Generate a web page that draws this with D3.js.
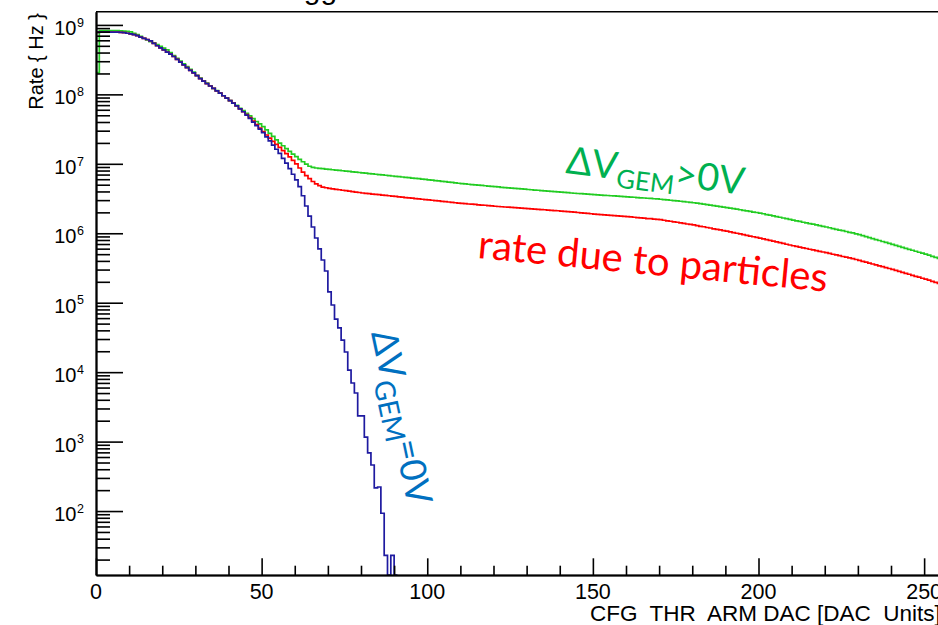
<!DOCTYPE html>
<html>
<head>
<meta charset="utf-8">
<script src="https://cdn.jsdelivr.net/npm/d3@7"></script>
<style>
  html, body { margin: 0; padding: 0; background: #fff; }
  svg { display: block; }
  .tick-label { font-family: "Liberation Sans", Arial, sans-serif; fill: #000; }
  .note { font-family: Lato, "Open Sans", sans-serif; }
</style>
</head>
<body>
<div id="chart"></div>
<script>
/* ===================================
   Rate vs threshold, ROOT style log histogram
   =================================== */

// one value per DAC unit bin (0..255), rate in Hz
const greenRate = [
  2.06e8, 8.3e8, 8.3e8, 8.3e8, 8.3e8, 8.3e8, 8.25e8, 8.2e8, 8.15e8,
  8.05e8, 7.94e8, 7.59e8, 7.24e8, 6.84e8, 6.43e8, 6.10e8, 5.75e8, 5.50e8, 5.19e8, 4.90e8, 4.62e8,
  4.37e8, 3.98e8, 3.63e8, 3.31e8, 3.02e8, 2.75e8, 2.51e8, 2.29e8, 2.09e8, 1.88e8,
  1.71e8, 1.57e8, 1.45e8, 1.33e8, 1.22e8, 1.13e8, 1.04e8, 9.55e7, 8.81e7, 8.13e7,
  7.50e7, 6.92e7, 6.31e7, 5.82e7, 5.35e7, 4.90e7, 4.47e7, 4.07e7, 3.76e7, 3.43e7,
  3.09e7, 2.75e7, 2.48e7, 2.21e7, 1.98e7, 1.82e7, 1.66e7, 1.51e7, 1.38e7, 1.27e7,
  1.16e7, 1.07e7, 9.89e6, 9.23e6, 8.91e6, 8.71e6, 8.61e6, 8.51e6, 8.41e6, 8.32e6,
  8.22e6, 8.13e6, 8.04e6, 7.94e6, 7.85e6, 7.76e6, 7.67e6, 7.59e6, 7.50e6, 7.41e6,
  7.33e6, 7.24e6, 7.16e6, 7.08e6, 7.00e6, 6.92e6, 6.84e6, 6.76e6, 6.68e6, 6.61e6,
  6.53e6, 6.46e6, 6.38e6, 6.31e6, 6.24e6, 6.17e6, 6.10e6, 6.03e6, 5.96e6, 5.89e6,
  5.82e6, 5.74e6, 5.67e6, 5.60e6, 5.53e6, 5.46e6, 5.39e6, 5.32e6, 5.25e6, 5.19e6,
  5.14e6, 5.08e6, 5.03e6, 4.98e6, 4.93e6, 4.88e6, 4.83e6, 4.78e6, 4.73e6, 4.68e6,
  4.64e6, 4.59e6, 4.55e6, 4.51e6, 4.47e6, 4.43e6, 4.39e6, 4.35e6, 4.31e6, 4.27e6,
  4.23e6, 4.19e6, 4.16e6, 4.12e6, 4.08e6, 4.05e6, 4.01e6, 3.98e6, 3.94e6, 3.91e6,
  3.87e6, 3.84e6, 3.80e6, 3.77e6, 3.74e6, 3.71e6, 3.69e6, 3.66e6, 3.63e6, 3.60e6,
  3.57e6, 3.55e6, 3.52e6, 3.50e6, 3.47e6, 3.45e6, 3.42e6, 3.40e6, 3.37e6, 3.35e6,
  3.32e6, 3.30e6, 3.27e6, 3.24e6, 3.22e6, 3.19e6, 3.17e6, 3.14e6, 3.12e6, 3.09e6,
  3.06e6, 3.02e6, 2.99e6, 2.95e6, 2.92e6, 2.89e6, 2.85e6, 2.82e6, 2.79e6, 2.75e6,
  2.71e6, 2.67e6, 2.62e6, 2.58e6, 2.54e6, 2.50e6, 2.46e6, 2.42e6, 2.38e6, 2.34e6,
  2.30e6, 2.26e6, 2.22e6, 2.18e6, 2.14e6, 2.10e6, 2.06e6, 2.02e6, 1.99e6, 1.95e6,
  1.91e6, 1.86e6, 1.82e6, 1.78e6, 1.74e6, 1.70e6, 1.66e6, 1.62e6, 1.58e6, 1.55e6,
  1.51e6, 1.48e6, 1.44e6, 1.41e6, 1.38e6, 1.35e6, 1.32e6, 1.29e6, 1.26e6, 1.23e6,
  1.20e6, 1.17e6, 1.14e6, 1.11e6, 1.09e6, 1.06e6, 1.03e6, 1.01e6, 9.80e5, 9.55e5,
  9.25e5, 8.95e5, 8.66e5, 8.39e5, 8.12e5, 7.86e5, 7.61e5, 7.37e5, 7.13e5, 6.92e5,
  6.70e5, 6.48e5, 6.27e5, 6.07e5, 5.88e5, 5.69e5, 5.51e5, 5.33e5, 5.16e5, 5.01e5,
  4.83e5, 4.66e5, 4.49e5, 4.33e5, 4.17e5
];

const redRate = [
  7.8e8, 7.9e8, 7.9e8, 7.9e8, 7.9e8, 7.9e8, 7.85e8, 7.8e8, 7.75e8,
  7.59e8, 7.41e8, 7.24e8, 7.00e8, 6.68e8, 6.38e8, 6.17e8, 5.89e8, 5.43e8, 5.01e8, 4.68e8, 4.37e8,
  4.07e8, 3.80e8, 3.51e8, 3.20e8, 2.92e8, 2.66e8, 2.43e8, 2.21e8, 2.04e8, 1.86e8,
  1.68e8, 1.55e8, 1.43e8, 1.32e8, 1.22e8, 1.12e8, 1.04e8, 9.55e7, 8.81e7, 8.13e7,
  7.50e7, 6.84e7, 6.17e7, 5.62e7, 5.13e7, 4.62e7, 4.12e7, 3.67e7, 3.27e7, 2.92e7,
  2.60e7, 2.34e7, 2.11e7, 1.91e7, 1.72e7, 1.55e7, 1.40e7, 1.26e7, 1.12e7, 1.00e7,
  8.71e6, 7.59e6, 6.76e6, 6.10e6, 5.56e6, 5.13e6, 4.84e6, 4.62e6, 4.52e6, 4.42e6,
  4.35e6, 4.29e6, 4.23e6, 4.16e6, 4.10e6, 4.04e6, 3.98e6, 3.92e6, 3.86e6, 3.80e6,
  3.76e6, 3.72e6, 3.67e6, 3.63e6, 3.59e6, 3.55e6, 3.51e6, 3.47e6, 3.43e6, 3.39e6,
  3.35e6, 3.31e6, 3.27e6, 3.24e6, 3.20e6, 3.16e6, 3.13e6, 3.09e6, 3.06e6, 3.02e6,
  2.99e6, 2.95e6, 2.92e6, 2.88e6, 2.85e6, 2.82e6, 2.79e6, 2.75e6, 2.72e6, 2.69e6,
  2.67e6, 2.64e6, 2.62e6, 2.60e6, 2.57e6, 2.55e6, 2.53e6, 2.50e6, 2.48e6, 2.45e6,
  2.43e6, 2.41e6, 2.39e6, 2.38e6, 2.36e6, 2.34e6, 2.32e6, 2.30e6, 2.28e6, 2.26e6,
  2.25e6, 2.23e6, 2.21e6, 2.19e6, 2.18e6, 2.16e6, 2.14e6, 2.12e6, 2.11e6, 2.09e6,
  2.07e6, 2.05e6, 2.03e6, 2.01e6, 1.99e6, 1.97e6, 1.95e6, 1.93e6, 1.91e6, 1.88e6,
  1.87e6, 1.85e6, 1.84e6, 1.82e6, 1.81e6, 1.79e6, 1.78e6, 1.76e6, 1.75e6, 1.74e6,
  1.72e6, 1.70e6, 1.68e6, 1.67e6, 1.65e6, 1.63e6, 1.62e6, 1.60e6, 1.58e6, 1.57e6,
  1.54e6, 1.51e6, 1.49e6, 1.46e6, 1.44e6, 1.41e6, 1.39e6, 1.36e6, 1.34e6, 1.32e6,
  1.29e6, 1.26e6, 1.24e6, 1.21e6, 1.19e6, 1.16e6, 1.14e6, 1.12e6, 1.09e6, 1.07e6,
  1.05e6, 1.02e6, 1.00e6, 9.77e5, 9.55e5, 9.33e5, 9.12e5, 8.91e5, 8.71e5, 8.51e5,
  8.30e5, 8.09e5, 7.89e5, 7.69e5, 7.50e5, 7.31e5, 7.13e5, 6.95e5, 6.78e5, 6.61e5,
  6.46e5, 6.31e5, 6.17e5, 6.03e5, 5.89e5, 5.75e5, 5.62e5, 5.50e5, 5.37e5, 5.25e5,
  5.12e5, 4.99e5, 4.87e5, 4.75e5, 4.63e5, 4.52e5, 4.41e5, 4.30e5, 4.19e5, 4.07e5,
  3.95e5, 3.84e5, 3.72e5, 3.61e5, 3.51e5, 3.40e5, 3.30e5, 3.21e5, 3.11e5, 3.02e5,
  2.92e5, 2.83e5, 2.74e5, 2.65e5, 2.57e5, 2.48e5, 2.40e5, 2.33e5, 2.25e5, 2.19e5,
  2.11e5, 2.03e5, 1.96e5, 1.89e5, 1.82e5
];

// bins 0..90, zero = empty bin
const blueRate = [
  7.8e8, 7.9e8, 7.9e8, 7.9e8, 7.9e8, 7.9e8, 7.85e8, 7.8e8, 7.75e8,
  7.59e8, 7.41e8, 7.24e8, 7.00e8, 6.68e8, 6.38e8, 6.17e8, 5.89e8, 5.43e8, 5.01e8, 4.68e8, 4.37e8,
  4.07e8, 3.80e8, 3.51e8, 3.20e8, 2.92e8, 2.66e8, 2.43e8, 2.21e8, 2.04e8, 1.86e8,
  1.68e8, 1.55e8, 1.43e8, 1.32e8, 1.22e8, 1.12e8, 1.04e8, 9.55e7, 8.81e7, 8.13e7,
  7.50e7, 6.84e7, 6.17e7, 5.62e7, 5.01e7, 4.52e7, 3.98e7, 3.55e7, 3.16e7, 2.82e7,
  2.45e7, 2.14e7, 1.86e7, 1.62e7, 1.41e7, 1.20e7, 1.02e7, 8.51e6, 7.08e6, 5.89e6,
  4.68e6, 3.47e6, 2.47e6, 1.77e6, 1.23e6, 8.55e5, 5.94e5, 4.12e5, 2.86e5, 1.43e5,
  9.27e4, 5.82e4, 4.33e4, 2.90e4, 1.95e4, 1.07e4, 6.98e3, 5.01e3, 2.34e3, 2.34e3,
  1160, 686, 460, 215, 222, 93, 23, 0, 23, 0
];

const xMajorTicks = [0, 50, 100, 150, 200, 250];
const xMinorTicks = [10, 20, 30, 40, 60, 70, 80, 90, 110, 120, 130, 140, 160, 170, 180, 190,
                     210, 220, 230, 240];
const yDecades = [2, 3, 4, 5, 6, 7, 8, 9];
const yMinorSteps = [2, 3, 4, 5, 6, 7, 8, 9];

const width = 938;
const height = 625;
const plotLeft = 96, plotRight = 944, plotTop = 11.7, plotBottom = 575;
const yMin = 12, yMax = 1.55e9;

const svg = d3.select('#chart')
    .append('svg')
    .attr('width', width)
    .attr('height', height);

const x = d3.scaleLinear().domain([0, 256]).range([plotLeft, plotRight]);
const y = d3.scaleLog().domain([yMin, yMax]).range([plotBottom, plotTop]);

svg.append('defs').append('clipPath')
    .attr('id', 'plot-clip')
    .append('rect')
    .attr('x', plotLeft).attr('y', plotTop)
    .attr('width', plotRight - plotLeft).attr('height', plotBottom - plotTop);

// step outline like ROOT "HIST"
function stepPoints(values) {
    const pts = [];
    values.forEach((v, i) => {
        const yy = y(Math.max(v, yMin));
        pts.push([x(i), yy], [x(i + 1), yy]);
    });
    return pts;
}

const line = d3.line();
const plot = svg.append('g').attr('clip-path', 'url(#plot-clip)');

[
    { values: greenRate, color: '#22cc22' },
    { values: redRate, color: '#ff0000' },
    { values: blueRate, color: '#1e1aa0' }
].forEach(s => {
    plot.append('path')
        .attr('d', line(stepPoints(s.values)))
        .attr('fill', 'none')
        .attr('stroke', s.color)
        .attr('stroke-width', 1.7);
});

// frame top
svg.append('line')
    .attr('x1', plotLeft).attr('x2', width)
    .attr('y1', plotTop).attr('y2', plotTop)
    .attr('stroke', '#000').attr('stroke-width', 1.5);

// axes, ticks drawn inward
const yMinorValues = [];
[1, 2, 3, 4, 5, 6, 7, 8].forEach(k => {
    yMinorSteps.forEach(m => {
        const v = m * Math.pow(10, k);
        if (v > yMin && v < yMax) yMinorValues.push(v);
    });
});

function styleAxis(g) {
    g.selectAll('path, line').attr('stroke', '#000').attr('stroke-width', 1.6);
    g.selectAll('text').remove();
}

svg.append('g')
    .attr('transform', `translate(${plotLeft},0)`)
    .call(d3.axisRight(y).tickValues(yMinorValues).tickSize(14).tickSizeOuter(0).tickFormat(''))
    .call(styleAxis);
svg.append('g')
    .attr('transform', `translate(${plotLeft},0)`)
    .call(d3.axisRight(y).tickValues(yDecades.map(k => Math.pow(10, k))).tickSize(27).tickSizeOuter(0).tickFormat(''))
    .call(styleAxis)
    .select('.domain').attr('stroke-width', 2);

svg.append('g')
    .attr('transform', `translate(0,${plotBottom})`)
    .call(d3.axisTop(x).tickValues(xMinorTicks).tickSize(9.3).tickSizeOuter(0).tickFormat(''))
    .call(styleAxis);
svg.append('g')
    .attr('transform', `translate(0,${plotBottom})`)
    .call(d3.axisTop(x).tickValues(xMajorTicks).tickSize(16.7).tickSizeOuter(0).tickFormat(''))
    .call(styleAxis)
    .select('.domain').attr('stroke-width', 2);

// tick labels
xMajorTicks.forEach(t => {
    svg.append('text')
        .attr('class', 'tick-label')
        .attr('x', x(t))
        .attr('y', 599)
        .attr('text-anchor', 'middle')
        .style('font-size', '21.5px')
        .text(t);
});

yDecades.forEach(k => {
    const yy = y(Math.pow(10, k));
    svg.append('text')
        .attr('class', 'tick-label')
        .attr('x', 76.5)
        .attr('y', yy + 10)
        .attr('text-anchor', 'end')
        .style('font-size', '20px')
        .text('10');
    svg.append('text')
        .attr('class', 'tick-label')
        .attr('x', 77)
        .attr('y', yy + 1.7)
        .style('font-size', '12.5px')
        .text(k);
});

// axis titles
svg.append('text')
    .attr('class', 'tick-label')
    .attr('transform', 'translate(43,13) rotate(-90)')
    .attr('text-anchor', 'end')
    .style('font-size', '20px')
    .style('white-space', 'pre')
    .text('Rate { Hz }');

svg.append('text')
    .attr('class', 'tick-label')
    .attr('x', 590)
    .attr('y', 621)
    .style('font-size', '22.5px')
    .style('white-space', 'pre')
    .text('CFG  THR  ARM DAC [DAC  Units]');

// histogram title, mostly above the window
svg.append('text')
    .attr('class', 'tick-label')
    .attr('x', 270)
    .attr('y', -1.3)
    .style('font-size', '30px')
    .text('Trigger');

// slide annotations
const green = svg.append('text')
    .attr('class', 'note')
    .attr('transform', 'translate(565,173) rotate(7)')
    .attr('fill', '#00b050')
    .style('font-size', '38px');
green.append('tspan').text('ΔV');
green.append('tspan').attr('dy', 8).style('font-size', '26px').text('GEM');
green.append('tspan').attr('dy', -8).text('>0V');

svg.append('text')
    .attr('class', 'note')
    .attr('transform', 'translate(477,258) rotate(5.5)')
    .attr('fill', '#ff0000')
    .style('font-size', '40px')
    .text('rate due to particles');

const blue = svg.append('text')
    .attr('class', 'note')
    .attr('transform', 'translate(371,333) rotate(78)')
    .attr('fill', '#0070c0')
    .style('font-size', '36px');
blue.append('tspan').text('ΔV');
blue.append('tspan').attr('dy', 8).style('font-size', '28px').text('GEM');
blue.append('tspan').attr('dy', -8).text('=0V');
</script>
</body>
</html>
